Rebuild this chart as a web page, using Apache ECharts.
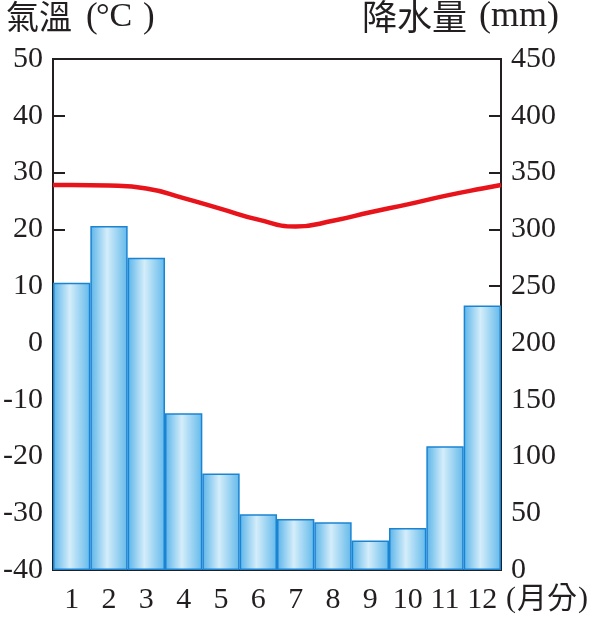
<!DOCTYPE html>
<html>
<head>
<meta charset="utf-8">
<script src="https://cdn.jsdelivr.net/npm/echarts@6/dist/echarts.min.js"></script>
<style>
html,body{margin:0;padding:0;background:#fff;}
#c{width:591px;height:617px;}
</style>
</head>
<body>
<div id="c"></div>
<script>
var months = ['1','2','3','4','5','6','7','8','9','10','11','12'];
var precip = [253, 303, 275, 138, 85, 49, 45, 42, 26, 37, 109, 233];
var tempX = [0.5, 1, 2, 3, 4, 5, 6, 7, 8, 9, 10, 11, 12, 12.5];
var temp = [27.8, 27.8, 27.7, 27.2, 25.5, 23.6, 21.7, 20.5, 21.5, 23.0, 24.4, 25.9, 27.2, 27.8];
var tempTicks = [-40, -30, -20, -10, 0, 10, 20, 30, 40, 50];
var precipTicks = [0, 50, 100, 150, 200, 250, 300, 350, 400, 450];

var serif = '"Liberation Serif", "Times New Roman", serif';
var cjk = '"Noto Sans CJK TC", "Noto Sans CJK SC", sans-serif';

var chart = echarts.init(document.getElementById('c'));
var lineData = tempX.map(function (x, i) { return [x, temp[i]]; });

chart.setOption({
  animation: false,
  backgroundColor: '#fff',
  grid: { left: 53, right: 90, top: 59, bottom: 47, show: true, borderColor: '#231f20', borderWidth: 2, backgroundColor: 'transparent' },
  xAxis: [
    {
      type: 'category', data: months, boundaryGap: true,
      axisLine: { show: true, onZero: false, lineStyle: { color: '#231f20', width: 2 } },
      axisTick: { show: false },
      axisLabel: { color: '#231f20', fontFamily: serif, fontSize: 30, margin: 15, interval: 0 }
    },
    {
      type: 'value', min: 0.5, max: 12.5, show: false
    }
  ],
  yAxis: [
    {
      type: 'value', min: tempTicks[0], max: tempTicks[tempTicks.length - 1], interval: 10,
      position: 'left',
      axisLine: { show: true, onZero: false, lineStyle: { color: '#231f20', width: 2 } },
      axisTick: { show: true, inside: true, length: 12, lineStyle: { color: '#231f20', width: 2 } },
      splitLine: { show: false },
      axisLabel: { color: '#231f20', fontFamily: serif, fontSize: 30, margin: 10 }
    },
    {
      type: 'value', min: precipTicks[0], max: precipTicks[precipTicks.length - 1], interval: 50,
      position: 'right',
      axisLine: { show: true, onZero: false, lineStyle: { color: '#231f20', width: 2 } },
      axisTick: { show: true, inside: true, length: 12, lineStyle: { color: '#231f20', width: 2 } },
      splitLine: { show: false },
      axisLabel: { color: '#231f20', fontFamily: serif, fontSize: 30, margin: 10 }
    }
  ],
  series: [
    {
      type: 'bar', xAxisIndex: 0, yAxisIndex: 1, data: precip,
      barCategoryGap: '0%',
      itemStyle: {
        color: new echarts.graphic.LinearGradient(0, 0, 1, 0, [
          { offset: 0, color: '#5ab4e9' },
          { offset: 0.45, color: '#d4edfa' },
          { offset: 1, color: '#62b9eb' }
        ]),
        borderColor: '#1a84d2', borderWidth: 1.5
      },
      z: 2
    },
    {
      type: 'line', xAxisIndex: 1, yAxisIndex: 0, data: lineData,
      smooth: true, showSymbol: false, symbol: 'none',
      lineStyle: { color: '#e8141b', width: 4.5 },
      z: 3
    }
  ],
  graphic: [
    { type: 'text', left: 6, top: 0, style: { text: '氣溫', font: '33px ' + cjk, fill: '#231f20' } },
    { type: 'text', left: 86, top: 0, style: { text: '(', font: '35px ' + serif, fill: '#231f20' } },
    { type: 'text', left: 96, top: 0, style: { text: '°C', font: '34px ' + serif, fill: '#231f20' } },
    { type: 'text', left: 143, top: 0, style: { text: ')', font: '35px ' + serif, fill: '#231f20' } },
    { type: 'text', left: 362, top: -1, style: { text: '降水量', font: '35px ' + cjk, fill: '#231f20' } },
    { type: 'text', left: 479, top: -1, style: { text: '(mm)', font: '36px ' + serif, fill: '#231f20' } },
    { type: 'text', left: 506, top: 584, style: { text: '(', font: '30px ' + serif, fill: '#231f20' } },
    { type: 'text', left: 517, top: 582, style: { text: '月分', font: '30px ' + cjk, fill: '#231f20' } },
    { type: 'text', left: 578, top: 584, style: { text: ')', font: '30px ' + serif, fill: '#231f20' } }
  ]
});
</script>
</body>
</html>
